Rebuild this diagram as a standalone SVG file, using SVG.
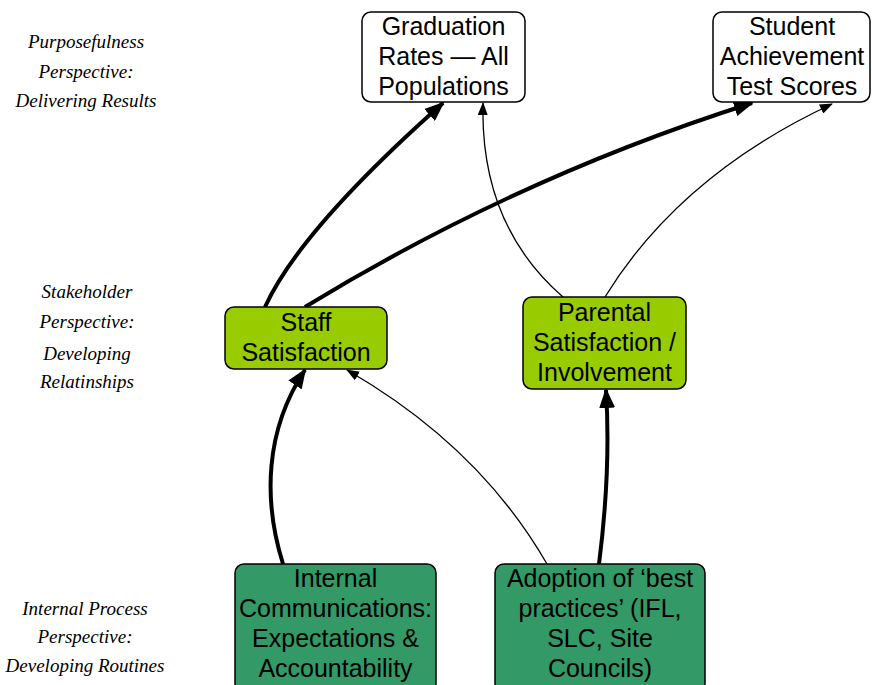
<svg xmlns="http://www.w3.org/2000/svg" width="872" height="685" viewBox="0 0 872 685">
<style>
.box{stroke:#000;stroke-width:1.5}
.w{fill:#fff}
.lg{fill:#99cc00}
.dg{fill:#339966}
.t{font-family:"Liberation Sans",Arial,sans-serif;font-size:25px;fill:#000;text-anchor:middle}
.h{font-family:"Liberation Serif","DejaVu Serif",serif;font-style:italic;font-size:19px;fill:#000;text-anchor:middle}
.thick{fill:none;stroke:#000;stroke-width:4}
.thin{fill:none;stroke:#000;stroke-width:1.3}
</style>
<defs>
<marker id="ah" markerUnits="userSpaceOnUse" viewBox="0 0 20 16" refX="18" refY="8" markerWidth="20" markerHeight="16" orient="auto">
<path d="M0,0 L20,8 L0,16 Z" fill="#000"/>
</marker>
<marker id="as" markerUnits="userSpaceOnUse" viewBox="0 0 13 10" refX="12" refY="5" markerWidth="13" markerHeight="10" orient="auto">
<path d="M0,0 L13,5 L0,10 Z" fill="#000"/>
</marker>
</defs>
<rect width="872" height="685" fill="#fff"/>
<g id="labels">
<text class="h" x="86" y="48">Purposefulness</text>
<text class="h" x="86" y="78">Perspective:</text>
<text class="h" x="86" y="107">Delivering Results</text>
<text class="h" x="87" y="298">Stakeholder</text>
<text class="h" x="87" y="328">Perspective:</text>
<text class="h" x="87" y="360">Developing</text>
<text class="h" x="87" y="388">Relatinships</text>
<text class="h" x="85" y="615">Internal Process</text>
<text class="h" x="85" y="643">Perspective:</text>
<text class="h" x="85" y="672">Developing Routines</text>
</g>
<g id="connectors">
<path class="thick" d="M265,307 Q300,230 443,103" marker-end="url(#ah)"/>
<path class="thick" d="M305,307 Q516,178 752,103" marker-end="url(#ah)"/>
<path class="thin" d="M563,297 Q480,225 483,103" marker-end="url(#as)"/>
<path class="thin" d="M605,297 Q680,175 832,104" marker-end="url(#as)"/>
<path class="thick" d="M283,564 C263,500 265,430 305,370" marker-end="url(#ah)"/>
<path class="thin" d="M547,564 Q479,446 347,370" marker-end="url(#as)"/>
<path class="thick" d="M599,564 Q611,470 606,390" marker-end="url(#ah)"/>
</g>
<g id="graduation">
<rect class="box w" x="362" y="12" width="163" height="90" rx="9"/>
<text class="t" x="443.5" y="35">Graduation</text>
<text class="t" x="443.5" y="65">Rates — All</text>
<text class="t" x="443.5" y="95">Populations</text>
</g>
<g id="student">
<rect class="box w" x="713" y="12" width="157" height="90" rx="9"/>
<text class="t" x="792" y="35">Student</text>
<text class="t" x="792" y="65">Achievement</text>
<text class="t" x="792" y="95">Test Scores</text>
</g>
<g id="staff">
<rect class="box lg" x="225" y="307" width="162" height="62" rx="9"/>
<text class="t" x="306" y="331">Staff</text>
<text class="t" x="306" y="361">Satisfaction</text>
</g>
<g id="parental">
<rect class="box lg" x="523" y="297" width="163" height="92" rx="9"/>
<text class="t" x="604.5" y="321">Parental</text>
<text class="t" x="604.5" y="351">Satisfaction /</text>
<text class="t" x="604.5" y="381">Involvement</text>
</g>
<g id="internal">
<rect class="box dg" x="235" y="564" width="201" height="128" rx="9"/>
<text class="t" x="335.5" y="587">Internal</text>
<text class="t" x="335.5" y="617">Communications:</text>
<text class="t" x="335.5" y="647">Expectations &amp;</text>
<text class="t" x="335.5" y="677">Accountability</text>
</g>
<g id="adoption">
<rect class="box dg" x="495" y="564" width="210" height="128" rx="9"/>
<text class="t" x="600" y="587">Adoption of ‘best</text>
<text class="t" x="600" y="617">practices’ (IFL,</text>
<text class="t" x="600" y="647">SLC, Site</text>
<text class="t" x="600" y="677">Councils)</text>
</g>
</svg>
